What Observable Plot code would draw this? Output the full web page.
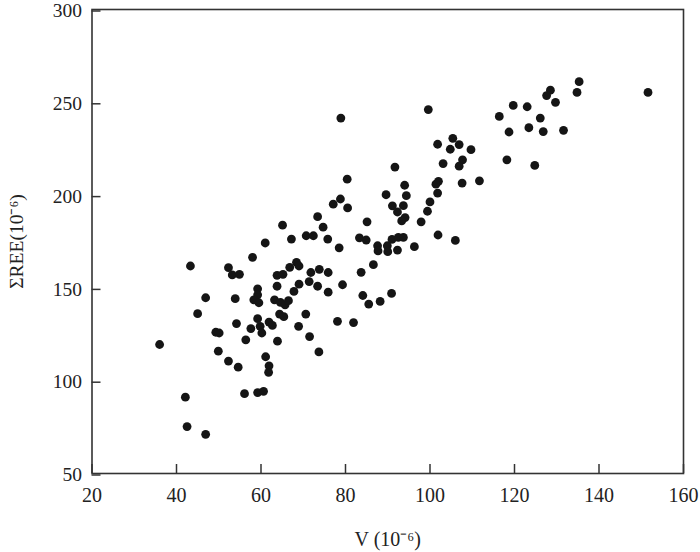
<!DOCTYPE html>
<html>
<head>
<meta charset="utf-8">
<script src="https://cdn.jsdelivr.net/npm/d3@7"></script>
<script src="https://cdn.jsdelivr.net/npm/@observablehq/plot@0.6"></script>
<style>
  html, body { margin: 0; padding: 0; background: #fff; }
</style>
</head>
<body>
<div id="chart"></div>
<script>
// V (10^-6)
const vValues = [
  135.3, 128.5, 127.6, 134.8, 151.6, 129.7, 119.7, 123.0, 116.4, 126.1,
  118.7, 123.4, 126.8, 131.6, 118.2, 124.8, 99.6,
  105.4, 106.9, 101.8, 104.8, 109.7, 103.1, 107.7, 106.9, 91.7,
  102.0, 101.4, 107.6, 111.7, 94.0, 101.8, 94.4, 100.0, 91.1, 93.7,
  92.3, 99.4, 94.1, 93.3, 97.9, 101.9, 106.0, 89.6,
  80.4, 78.8, 77.1, 80.5, 73.4, 74.7, 65.1, 70.7, 72.4, 67.2,
  75.8, 78.5, 85.1, 83.3, 84.9, 87.6, 89.9, 87.7, 90.0, 91.0,
  92.5, 93.7, 92.3, 96.3, 61.0, 78.9,
  58.0, 86.6, 83.7, 68.4, 69.0, 66.8, 63.8, 65.2, 71.8, 73.8,
  75.9, 71.4, 69.0, 63.8, 79.3, 73.4, 75.9, 67.8, 59.2, 59.2,
  58.3, 59.5, 63.2, 64.6, 65.7, 66.5, 84.1, 85.5, 88.2, 90.9,
  64.4, 65.4, 70.6, 59.2, 57.6, 59.8, 60.2, 61.9, 62.7, 68.9,
  78.1, 81.9, 63.9, 71.5, 73.7, 61.1, 61.9, 61.8,
  43.3, 52.3, 53.2, 54.9, 46.9, 53.9, 45.0, 54.2, 49.3, 50.1,
  36.0, 49.9, 52.3, 54.6, 56.4, 42.1, 56.1, 59.2, 60.6, 42.5, 46.9
];
// ΣREE (10^-6)
const reeValues = [
  261.1, 256.5, 253.6, 255.3, 255.3, 250.0, 248.3, 247.6, 242.4, 241.5,
  234.0, 236.3, 234.2, 234.9, 219.0, 216.0, 246.1,
  230.6, 227.2, 227.4, 224.7, 224.5, 217.0, 219.0, 215.6, 215.1,
  207.4, 205.9, 206.5, 207.7, 205.3, 201.1, 199.7, 196.3, 194.2, 194.3,
  190.9, 191.3, 187.9, 186.1, 185.6, 178.5, 175.6, 200.2,
  208.6, 197.9, 195.1, 193.1, 188.4, 182.7, 183.8, 178.1, 178.1, 176.3,
  176.3, 171.6, 185.6, 177.0, 175.8, 172.7, 172.7, 169.9, 169.5, 176.1,
  177.2, 177.2, 170.4, 172.2, 174.2, 241.5,
  166.5, 162.5, 158.4, 163.8, 161.8, 161.1, 156.8, 157.3, 158.3, 160.0,
  158.3, 153.4, 152.0, 150.9, 151.7, 150.9, 147.7, 148.1, 149.5, 146.3,
  143.6, 142.0, 143.6, 142.2, 140.9, 143.1, 145.9, 141.3, 142.7, 147.0,
  135.9, 134.5, 135.9, 133.4, 128.1, 129.3, 125.7, 131.6, 129.8, 129.3,
  132.0, 131.3, 121.3, 123.8, 115.5, 112.9, 108.0, 104.5,
  161.8, 160.9, 157.0, 157.3, 144.7, 144.2, 136.1, 130.8, 126.1, 125.7,
  119.5, 115.9, 110.6, 107.3, 122.0, 91.1, 93.0, 93.6, 94.3, 75.3, 71.1
];
const xTicks = [20, 40, 60, 80, 100, 120, 140, 160];
const yTicks = [50, 100, 150, 200, 250, 300];
const xLabel = "V (10⁻⁶)";
const yLabel = "ΣREE(10⁻⁶)";

const data = vValues.map((v, i) => ({v, ree: reeValues[i]}));

const chart = Plot.plot({
  width: 700,
  height: 552,
  marginLeft: 91.5,
  marginRight: 17,
  marginTop: 9,
  marginBottom: 79,
  style: {fontFamily: "'Liberation Serif', 'Times New Roman', serif", fontSize: "20px", color: "#222", background: "#fff"},
  x: {domain: [20, 160], label: null},
  y: {domain: [50, 300], label: null},
  marks: [
    Plot.axisX({ticks: xTicks, tickSize: -9, tickPadding: 23, strokeWidth: 1.5, stroke: "#333", fill: "#222", fontSize: 20, label: xLabel, labelAnchor: "center", labelArrow: "none", labelOffset: 72}),
    Plot.axisY({ticks: yTicks, tickSize: -9, tickPadding: 19, strokeWidth: 1.5, stroke: "#333", fill: "#222", fontSize: 19.5, dy: 1.5, label: yLabel, labelAnchor: "center", labelArrow: "none", labelOffset: 83}),
    Plot.frame({stroke: "#333", strokeWidth: 1.6}),
    Plot.dot(data, {x: "v", y: "ree", r: 4.4, fill: "#151515", stroke: "none"})
  ]
});
document.getElementById("chart").appendChild(chart);
</script>
</body>
</html>
